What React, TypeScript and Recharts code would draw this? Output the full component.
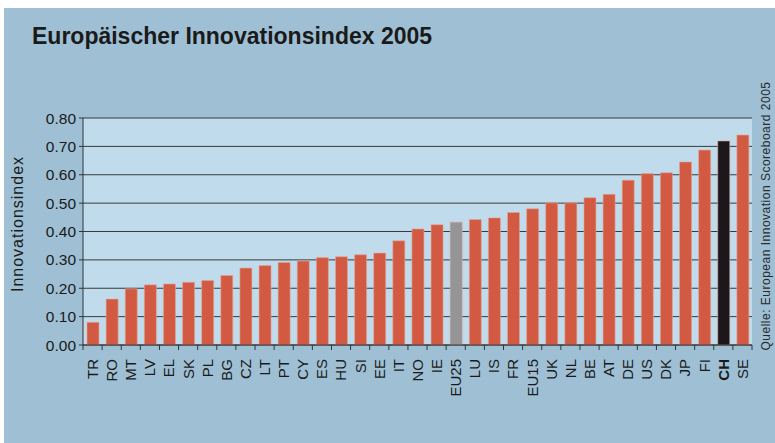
import { Bar, BarChart, CartesianGrid, Cell, Label, XAxis, YAxis } from "recharts";

// Europäischer Innovationsindex 2005
const countries = [
  "TR", "RO", "MT", "LV", "EL", "SK", "PL", "BG", "CZ", "LT", "PT", "CY",
  "ES", "HU", "SI", "EE", "IT", "NO", "IE", "EU25", "LU", "IS", "FR", "EU15",
  "UK", "NL", "BE", "AT", "DE", "US", "DK", "JP", "FI", "CH", "SE",
];
const index = [
  0.08, 0.162, 0.198, 0.212, 0.215, 0.221, 0.227, 0.245, 0.271, 0.28, 0.291,
  0.296, 0.308, 0.311, 0.318, 0.324, 0.367, 0.409, 0.424, 0.433, 0.442, 0.448,
  0.467, 0.48, 0.501, 0.501, 0.519, 0.531, 0.581, 0.604, 0.607, 0.645, 0.687,
  0.719, 0.74,
];
const yTicks = [0, 0.1, 0.2, 0.3, 0.4, 0.5, 0.6, 0.7, 0.8];

const data = countries.map((c, i) => ({ country: c, value: index[i] }));

const RED = "#d35a42";
const barColor = (c: string) =>
  c === "CH" ? "#1c171a" : c === "EU25" ? "#959497" : RED;

const W = 771;
const H = 435;
const M = { top: 110, right: 23, left: 0, bottom: 0 };
const Y_W = 79;
const PLOT_W = W - M.left - M.right - Y_W;
const STEP = PLOT_W / countries.length;
const FONT = "'Liberation Sans', Arial, sans-serif";

function CountryTick(props: any) {
  const { x, y, payload, index: i } = props;
  const last = i === countries.length - 1;
  const bold = payload.value === "CH";
  return (
    <g>
      <line x1={x - STEP / 2} x2={x - STEP / 2} y1={y - 8} y2={y - 3} stroke="#333" />
      {last && (
        <line x1={x + STEP / 2} x2={x + STEP / 2} y1={y - 8} y2={y - 3} stroke="#333" />
      )}
      <text
        x={x}
        y={y + 6}
        transform={`rotate(-90 ${x} ${y + 6})`}
        textAnchor="end"
        dy="0.36em"
        fontSize={15}
        fontWeight={bold ? 700 : 400}
        fontFamily={FONT}
        fill="#1a1a1a"
      >
        {payload.value}
      </text>
    </g>
  );
}

export default function App() {
  return (
    <div
      style={{
        position: "absolute",
        left: 0,
        top: 0,
        width: 775,
        height: 443,
        background: "#fff",
        overflow: "hidden",
      }}
    >
      <div
        style={{
          position: "absolute",
          left: 4,
          top: 8,
          width: W,
          height: H,
          background: "#9fc0d4",
        }}
      >
        <div
          style={{
            position: "absolute",
            left: 28,
            top: 15,
            fontFamily: FONT,
            fontWeight: 700,
            fontSize: 23,
            color: "#1a1a1a",
            whiteSpace: "nowrap",
          }}
        >
          Europäischer Innovationsindex 2005
        </div>
        <div
          style={{
            position: "absolute",
            left: 762 - 150,
            top: 208 - 7,
            width: 300,
            height: 14,
            lineHeight: "14px",
            textAlign: "center",
            transform: "rotate(-90deg)",
            fontFamily: FONT,
            fontSize: 12,
            letterSpacing: 0.5,
            color: "#2a2a2a",
            whiteSpace: "nowrap",
          }}
        >
          Quelle: European Innovation Scoreboard 2005
        </div>
        <BarChart width={W} height={H} data={data} margin={M} barSize={12}>
          <CartesianGrid
            vertical={false}
            stroke="#3a3a3a"
            fill="#c0dcec"
            fillOpacity={1}
          />
          <XAxis
            dataKey="country"
            interval={0}
            height={H - M.top - 227}
            tickLine={false}
            stroke="#333"
            tick={<CountryTick />}
          />
          <YAxis
            width={Y_W}
            domain={[0, 0.8]}
            ticks={yTicks}
            tickSize={4}
            tickMargin={3}
            stroke="#333"
            tick={{ fill: "#1a1a1a", fontSize: 15.5, fontFamily: FONT }}
            tickFormatter={(v: number) => v.toFixed(2)}
          >
            <Label
              content={() => (
                <text
                  x={13}
                  y={216}
                  transform="rotate(-90 13 216)"
                  textAnchor="middle"
                  dy="0.36em"
                  fontSize={16}
                  letterSpacing={1}
                  fontFamily={FONT}
                  fill="#1a1a1a"
                >
                  Innovationsindex
                </text>
              )}
            />
          </YAxis>
          <Bar
            dataKey="value"
            isAnimationActive={false}
            stroke="#e6a294"
            strokeWidth={0.6}
          >
            {data.map((d) => (
              <Cell key={d.country} fill={barColor(d.country)} />
            ))}
          </Bar>
        </BarChart>
      </div>
    </div>
  );
}
